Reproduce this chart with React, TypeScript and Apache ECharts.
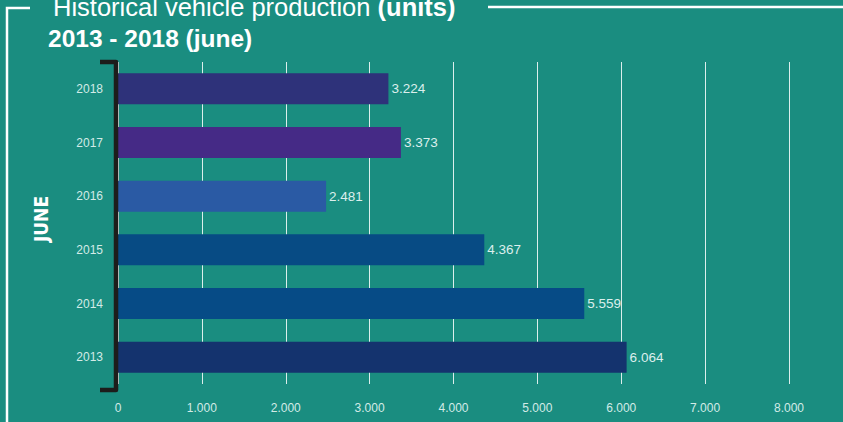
import React, { useEffect, useRef } from "react";
import * as echarts from "echarts";

const years = ["2013", "2014", "2015", "2016", "2017", "2018"];
const values = [6064, 5559, 4367, 2481, 3373, 3224];
const barColors = ["#14336e", "#064b86", "#074b84", "#2a5aa4", "#452a86", "#2e327a"];
const xMax = 8000;
const xInterval = 1000;

const fmt = (v: number) => String(v).replace(/\B(?=(\d{3})+(?!\d))/g, ".");

export default function App() {
  const ref = useRef<HTMLDivElement>(null);
  useEffect(() => {
    document.body.style.margin = "0";
    const chart = echarts.init(ref.current!, null, { renderer: "svg" });
    const sans = '"Liberation Sans", Arial, sans-serif';
    chart.setOption({
      animation: false,
      backgroundColor: "#1a8d80",
      grid: { left: 118, right: 54, top: 62, bottom: 38, containLabel: false },
      xAxis: {
        type: "value",
        min: 0,
        max: xMax,
        interval: xInterval,
        axisLine: { show: false },
        axisTick: { show: false },
        splitLine: { show: true, lineStyle: { color: "rgba(255,255,255,0.85)", width: 1 } },
        axisLabel: { color: "#d3ebe7", fontSize: 12, fontFamily: sans, margin: 18, formatter: (v: number) => fmt(v) },
      },
      yAxis: {
        type: "category",
        data: years,
        axisLine: { show: false },
        axisTick: { show: false },
        splitLine: { show: false },
        axisLabel: { color: "#d3ebe7", fontSize: 12, fontFamily: sans, margin: 15 },
      },
      series: [
        {
          type: "bar",
          barWidth: 31,
          data: values.map((v, i) => ({ value: v, itemStyle: { color: barColors[i] } })),
          label: {
            show: true,
            position: "right",
            distance: 3,
            color: "#dcefed",
            fontSize: 13.5,
            fontFamily: sans,
            formatter: (p: any) => fmt(p.value),
          },
        },
      ],
      graphic: [
        {
          type: "polyline",
          z: 100,
          shape: { points: [[7, 422], [7, 8], [30, 8]] },
          style: { stroke: "#ffffff", lineWidth: 2.5, fill: "none" },
        },
        {
          type: "line",
          z: 100,
          shape: { x1: 488, y1: 7, x2: 843, y2: 7 },
          style: { stroke: "#ffffff", lineWidth: 2.5 },
        },
        {
          type: "text",
          z: 100,
          x: 53,
          y: 7,
          style: {
            text: "{a|Historical vehicle production }{b|(units)}",
            verticalAlign: "middle",
            rich: {
              a: { fontSize: 25.5, fontWeight: 300, fontFamily: sans, fill: "#ffffff", color: "#ffffff" },
              b: { fontSize: 25.5, fontWeight: "bold", fontFamily: sans, fill: "#ffffff", color: "#ffffff" },
            },
          },
        },
        {
          type: "text",
          z: 100,
          x: 48,
          y: 38,
          style: {
            text: "2013 - 2018 (june)",
            verticalAlign: "middle",
            font: 'bold 24.5px "Liberation Sans", Arial, sans-serif',
            fill: "#ffffff",
          },
        },
        {
          type: "text",
          z: 100,
          x: 41,
          y: 219,
          rotation: Math.PI / 2,
          style: {
            text: "JUNE",
            align: "center",
            verticalAlign: "middle",
            font: 'bold 19px "Liberation Sans Narrow", "DejaVu Sans Condensed", Arial, sans-serif',
            fill: "#ffffff",
          },
        },
        {
          type: "polyline",
          z: 100,
          shape: { points: [[100, 62], [116, 62], [116, 390], [100, 390]] },
          style: { stroke: "#1d1d1b", lineWidth: 4.5, fill: "none", lineJoin: "round" },
        },
      ],
    });
    return () => chart.dispose();
  }, []);
  return <div ref={ref} style={{ width: 843, height: 422 }} />;
}
